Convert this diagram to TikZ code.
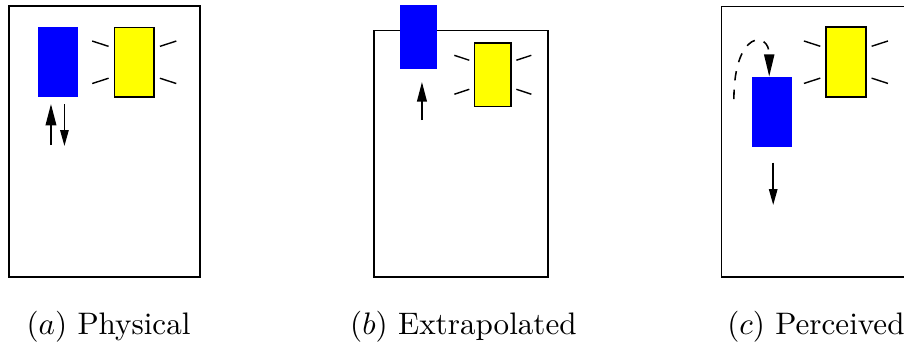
\documentclass[tikz,border=0pt]{standalone}
\usepackage{xcolor}
\usetikzlibrary{arrows.meta,positioning,calc}
\definecolor{carblue}{HTML}{0000FF}
\definecolor{lampyellow}{HTML}{FFFF00}
\tikzset{
  frame/.style={draw, line width=0.5pt, inner sep=0pt, anchor=south west},
  car/.style={fill=carblue, inner sep=0pt, minimum width=0.45cm, minimum height=0.79cm},
  lamp/.style={draw, fill=lampyellow, line width=0.5pt, inner sep=0pt, minimum width=0.45cm, minimum height=0.79cm},
  glint/.style={line width=0.45pt},
  bigtip/.style={-{Triangle[length=2.4mm,width=1.2mm]}, line width=0.5pt},
  smalltip/.style={-{Triangle[length=1.8mm,width=0.95mm]}, line width=0.5pt},
  caption/.style={anchor=base, font=\normalsize}
}

\begin{document}
\begin{tikzpicture}
    \useasboundingbox (0,0) rectangle (10.215,3.876);

    % (a) Physical
    \begin{scope}[shift={(0.09,0.74)}]
        \node[frame, minimum width=2.16cm, minimum height=3.06cm] (frameA) at (0,0) {};
        \node[car] (carA) at (0.568,2.435) {};
        \node[lamp] (lampA) at (1.427,2.432) {};
        \foreach \sx in {-1,1}
            \foreach \sy in {-1,1}
                \draw[glint] ($(lampA)+(\sx*0.29,\sy*0.18)$) -- ($(lampA)+(\sx*0.475,\sy*0.24)$);
        \coordinate (upA0) at (0.486,1.497);
        \coordinate (upA1) at (0.486,1.960);
        \coordinate (dnA0) at (0.638,1.960);
        \coordinate (dnA1) at (0.638,1.486);
        \draw[bigtip] (upA0) -- (upA1);
        \draw[smalltip] (dnA0) -- (dnA1);
    \end{scope}

    % (b) Extrapolated
    \begin{scope}[shift={(4.22,0.734)}]
        \node[frame, minimum width=1.966cm, minimum height=2.791cm] (frameB) at (0,0) {};
        \node[car, minimum width=0.413cm, minimum height=0.718cm] (carB) at (0.506,2.726) {};
        \node[lamp, minimum width=0.41cm, minimum height=0.718cm] (lampB) at (1.349,2.297) {};
        \foreach \sx in {-1,1}
            \foreach \sy in {-1,1}
                \draw[glint] ($(lampB)+(\sx*0.266,\sy*0.164)$) -- ($(lampB)+(\sx*0.435,\sy*0.22)$);
        \coordinate (upB0) at (0.548,1.785);
        \coordinate (upB1) at (0.548,2.215);
        \draw[bigtip, -{Triangle[length=2.2mm,width=1.1mm]}] (upB0) -- (upB1);
    \end{scope}

    % (c) Perceived
    \begin{scope}[shift={(8.143,0.734)}]
        \node[frame, minimum width=2.16cm, minimum height=3.062cm] (frameC) at (0,0) {};
        \node[car] (carC) at (0.584,1.876) {};
        \node[lamp] (lampC) at (1.416,2.439) {};
        \foreach \sx in {-1,1}
            \foreach \sy in {-1,1}
                \draw[glint] ($(lampC)+(\sx*0.29,\sy*0.18)$) -- ($(lampC)+(\sx*0.475,\sy*0.24)$);
        \coordinate (hopC) at (0.15,2.023);
        \draw[bigtip, dashed, -{Triangle[length=2.5mm,width=1.15mm]}] (hopC) .. controls (0.15,2.8) and (0.549,2.8) .. ([xshift=-0.035cm]carC.north);
        \coordinate (dnC0) at (0.594,1.303);
        \coordinate (dnC1) at (0.594,0.825);
        \draw[smalltip] (dnC0) -- (dnC1);
    \end{scope}

    % Captions
    \node[caption] (capA) at (1.226,0.098) {$(a)$ Physical};
    \node[caption] (capB) at (5.237,0.098) {$(b)$ Extrapolated};
    \node[caption] (capC) at (9.22,0.098) {$(c)$ Perceived};
\end{tikzpicture}
\end{document}
